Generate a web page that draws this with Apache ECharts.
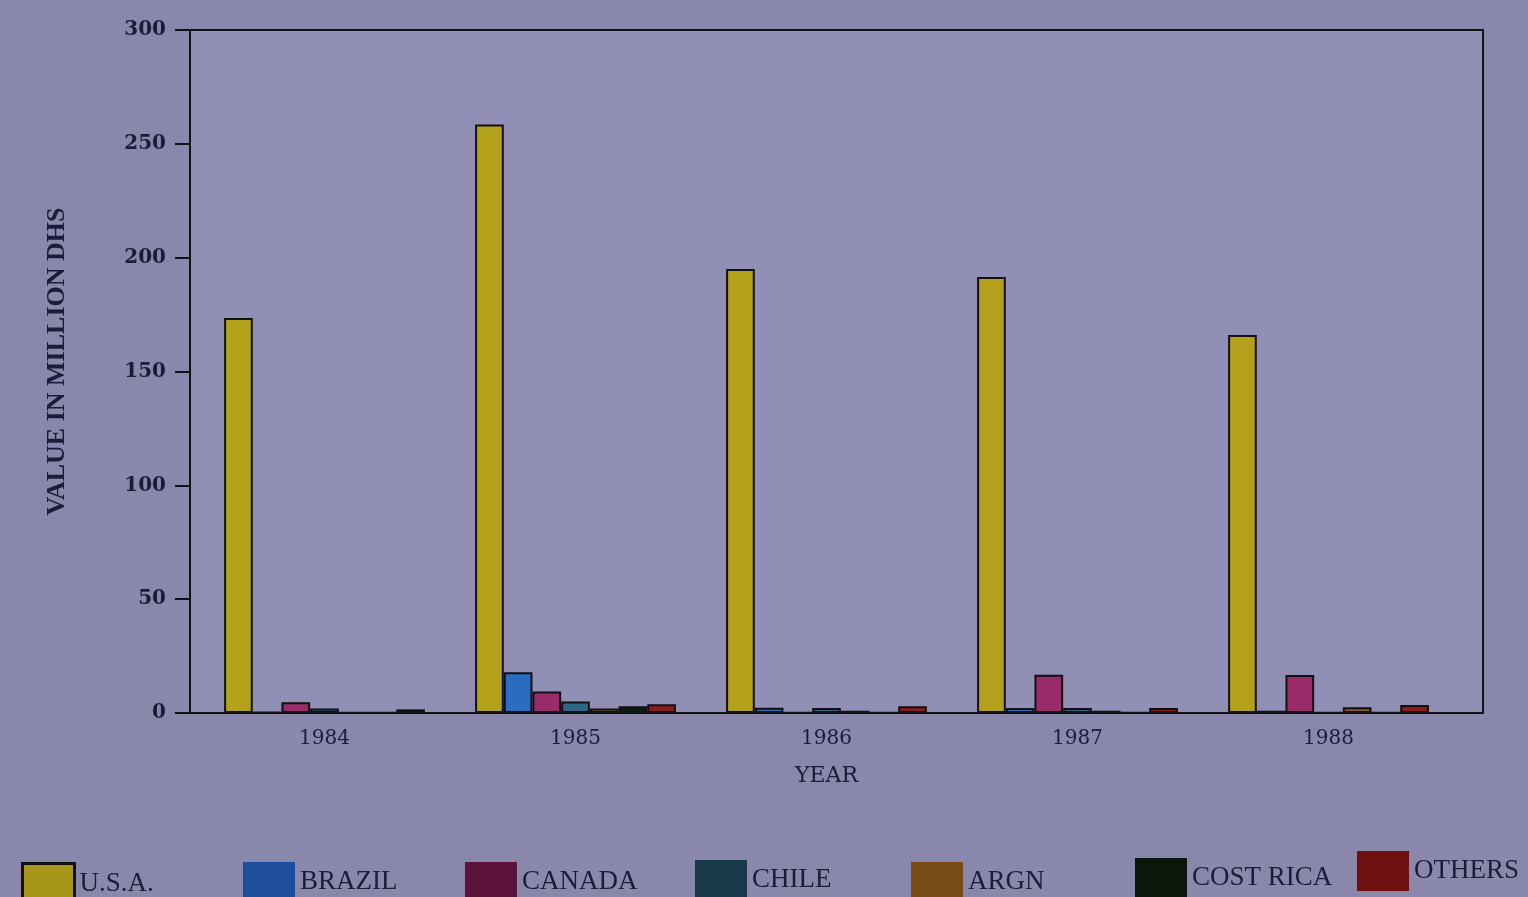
<!DOCTYPE html>
<html><head><meta charset="utf-8">
<script src="https://cdn.jsdelivr.net/npm/echarts@6/dist/echarts.min.js"></script>
<style>html,body{margin:0;padding:0;background:#8b89ae;}#c{width:1528px;height:897px;}</style>
</head><body><div id="c"></div>
<script>
const years = ['1984','1985','1986','1987','1988'];
const usa = [173.5, 258.5, 195, 191.5, 166];
const brazil = [0.5, 17.9, 2.3, 2.2, 1.0];
const canada = [4.7, 9.4, 0.3, 16.8, 16.7];
const chile = [2.0, 5.1, 2.2, 2.2, 0.3];
const argn = [0.3, 2.0, 1.0, 1.0, 2.5];
const costaRica = [0.3, 3.0, 0.3, 0.3, 0.3];
const others = [1.6, 3.8, 3.0, 2.2, 3.5];
const yTicks = [0, 50, 100, 150, 200, 250, 300];

const names = ['U.S.A.', 'BRAZIL', 'CANADA', 'CHILE', 'ARGN', 'COST RICA', 'OTHERS'];
const values = [usa, brazil, canada, chile, argn, costaRica, others];
const colors = ['#b3a11b', '#2a6cc0', '#9a2c6c', '#2d6784', '#8a5a22', '#0c1c10', '#8a1c1c'];
const legendColors = ['#a8961a', '#1f4f9c', '#5a1238', '#17394a', '#7a4c18', '#0a180c', '#6e0f10'];
const legendX = [16, 238, 460, 690, 906, 1130, 1352];
const legendY = [857, 857, 857, 855, 857, 853, 846];

const chart = echarts.init(document.getElementById('c'));
const serif = 'Liberation Serif';
const dserif = 'DejaVu Serif';
chart.setOption({
  backgroundColor: '#8a87ad',
  animation: false,
  legend: names.map((n, i) => ({
    data: [n], left: legendX[i], top: legendY[i],
    itemWidth: 52, itemHeight: 40, itemGap: 10,
    icon: 'rect',
    itemStyle: { color: legendColors[i], borderColor: '#111', borderWidth: i === 0 ? 3 : 0 },
    textStyle: { fontFamily: serif, fontSize: 27, color: '#1c1c3a', padding: [14, 0, 0, 0] }
  })),
  grid: [
    { left: 190, right: 45, top: 30, bottom: 184, show: true, borderColor: '#111', borderWidth: 2, backgroundColor: '#918fb5' },
    { left: 199, right: 74, top: 30, bottom: 184 }
  ],
  xAxis: [
    { gridIndex: 0, type: 'value', min: 0, max: 1, show: false },
    {
      gridIndex: 1, type: 'category', data: years,
      name: 'YEAR', nameLocation: 'middle', nameGap: 52,
      nameTextStyle: { fontFamily: dserif, fontSize: 22, color: '#1c1c3a' },
      axisLine: { show: false },
      axisTick: { show: false },
      axisLabel: { fontFamily: dserif, fontSize: 20, color: '#1c1c3a', margin: 16 }
    }
  ],
  yAxis: [
    {
      gridIndex: 0, type: 'value', min: 0, max: 300, interval: 50,
      name: 'VALUE IN MILLION DHS', nameLocation: 'middle', nameGap: 120, nameRotate: 90,
      nameTextStyle: { fontFamily: serif, fontSize: 26, fontWeight: 'bold', color: '#1c1c3a', padding: [0, 0, 0, 20] },
      axisLine: { show: true, lineStyle: { color: '#111', width: 2 } },
      axisTick: { show: true, length: 15, lineStyle: { color: '#111', width: 2 } },
      splitLine: { show: false },
      axisLabel: { fontFamily: dserif, fontSize: 20, fontWeight: 'bold', color: '#1c1c3a', margin: 24,
        padding: [0, 0, 9, 0], formatter: v => yTicks.includes(v) ? String(v) : '' }
    },
    { gridIndex: 1, type: 'value', min: 0, max: 300, interval: 50, show: false }
  ],
  series: names.map((n, i) => ({
    name: n, type: 'bar', data: values[i], xAxisIndex: 1, yAxisIndex: 1,
    barGap: '0%', barCategoryGap: '20%',
    itemStyle: { color: colors[i], borderColor: '#111', borderWidth: 2 }
  }))
});
</script></body></html>
